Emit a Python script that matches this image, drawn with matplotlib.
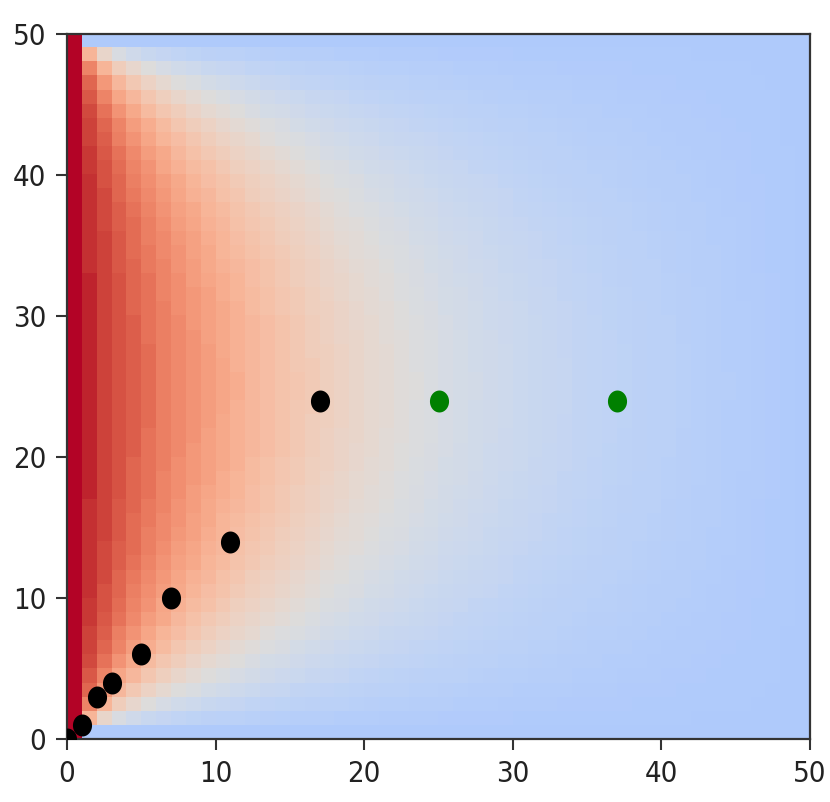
import numpy as np
import matplotlib
matplotlib.use("Agg")
import matplotlib.pyplot as plt
from matplotlib.path import Path

# ---- data ---------------------------------------------------------------
# Heat-map interior cells (columns x=1..48), one string per grid row for
# y=1..24 (bottom half).  Each character is one cell: value = (CODE.index(ch)/89)**2.
# The map is mirror-symmetric: rows y=25..48 repeat rows y=24..1.
CODE = "0123456789ABCDEFGHIJKLMNOPQRSTUVWXYZabcdefghijklmnopqrstuvwxyz!#$%&()*+,-./:;<=>?@[]^_{|}~"
CODE_MAX = 89
HEAT_ROWS_BOTTOM = [
    "#neZVSQOMLKJIHGFFEDDCCBBAA9998887776665554443322",
    "/#smhdaYVTSQPONMLKJIHHGFFEDDCCBBAA99988776655432",
    ">+!uplhfcaYWUTRQPONMLKJJIHGGFEEDDCCBAA9988766543",
    "@/(!vrnkhfdbZXWUTSQPONMLKKJIHHGFFEDDCBBA99877653",
    "]<,&zvsoljhecbZXWVTSRQPONMLKJJIHGGFEDDCBBA987654",
    "^>/*%zvspmkigecaZXWVTSRQPONMLKJJIHGFFEDCCBA98764",
    "^?:,(#yvspnligfdbaYXVUTSRQPONMLKJIHHGFEDCBBA9764",
    "_@<.*&!xuspnljhfdcaZXWVUSRQPONMLKJIIHGFEDCBA9865",
    "_[=/,($zxurpnljhfecaZYWVUTRQPONMLKJJIHGFEDCBA875",
    "{[>:-*&#ywtrpnljhfecbZYWVUTSQPONMLKJIHGGFDCBA975",
    "{]>;.+($!xvsqomkihfdcaZYWVUTSQPONMLKJIHGFEDCA975",
    "{]?</,)&#zwusqomkigfdcaZXWVUSRQPONMLKJIHGFDCB985",
    "{]?=:-*($!xvtrpnljigedbaYXWVTSRQPONMKJIHGFEDBA86",
    "{^@=:.+)%#ywusqomkjhfecbZYXVUTSRPONMLKJIHFEDBA86",
    "{^@=;.,)&#zxvtrpnljigfdcaZXWVUSRQPONLKJIHGFDCA86",
    "{^@>;/,*&$!ywusqomkjhfecbZYXVUTSRPONMLKIHGFDCA86",
    "|^[></-*(%#ywusqonljigedbaZXWVTSRQPNMLKJIGFECB96",
    "|^[></-+)%#zxvtrpnlkigfdcbZYWVUTRQPONLKJIHFECB96",
    "|^[><:-+)&$zxvtrqomkjhfecbaYXWUTSRPONMLJIHGEDB96",
    "|^[?<:.+)&$!ywusqomljhgedbaYXWVTSRQONMLKIHGEDB96",
    "|^[?<:.,)&$!ywusqonljigfdcaZXWVUSRQPNMLKIHGEDB96",
    "|^[?=:.,*&$!ywusrpnlkigfdcaZYWVUSRQPOMLKJHGEDB96",
    "|^[?=:.,*($!ywutrpnlkigfdcaZYWVUTRQPOMLKJHGEDB96",
    "|^[?=:.,*(%!ywvtrpnlkihfdcbZYWVUTRQPOMLKJHGFDB96",
]
LEFT_EDGE_VALUE = 1.0      # column x=0 (dark red strip)
OUTER_EDGE_VALUE = 0.0     # rows y=0, y=49 and column x=49

# Black path points and green points
BLACK_X = [0, 1, 2, 3, 5, 7, 11, 17]
BLACK_Y = [0, 1, 3, 4, 6, 10, 14, 24]
GREEN_X = [25, 37]
GREEN_Y = [24, 24]

X_TICKS = [0, 10, 20, 30, 40, 50]
Y_TICKS = [0, 10, 20, 30, 40, 50]
# ---------------------------------------------------------------------------

N = 50
heat = np.full((N, N), OUTER_EDGE_VALUE)
heat[:, 0] = LEFT_EDGE_VALUE
interior = HEAT_ROWS_BOTTOM + HEAT_ROWS_BOTTOM[::-1]
for j, row in enumerate(interior, start=1):
    row = row[:48].ljust(48, "0")
    heat[j, 1:49] = [(CODE.index(ch) / CODE_MAX) ** 2 for ch in row]

t = np.linspace(0, 2 * np.pi, 60)
ell = Path(np.column_stack([0.87 * np.cos(t), np.sin(t)]), closed=True)

fig = plt.figure(figsize=(8.30, 8.02), dpi=100)
ax = fig.add_axes([67/830, 1-739/802, 743/830, 705/802])
ax.imshow(heat, cmap="coolwarm", vmin=-0.5385, vmax=1, origin="lower",
          extent=[0, 50, 0, 50], aspect="auto", interpolation="nearest")
ax.scatter(BLACK_X, BLACK_Y, s=250, c="black", marker=ell, zorder=3, linewidths=0)
ax.scatter(GREEN_X, GREEN_Y, s=250, c="green", marker=ell, zorder=3, linewidths=0)
ax.set_xlim(0, 50)
ax.set_ylim(0, 50)
ax.set_xticks(X_TICKS)
ax.set_yticks(Y_TICKS)
for lab in ax.get_xticklabels() + ax.get_yticklabels():
    lab.set_fontsize(21)
    lab.set_fontstretch("condensed")
ax.tick_params(length=8, width=1.5, pad=7, color="#333333", labelcolor="#222222")
for s in ax.spines.values():
    s.set_linewidth(1.6)
    s.set_color("#333333")
fig.savefig("out.png", dpi=100)
